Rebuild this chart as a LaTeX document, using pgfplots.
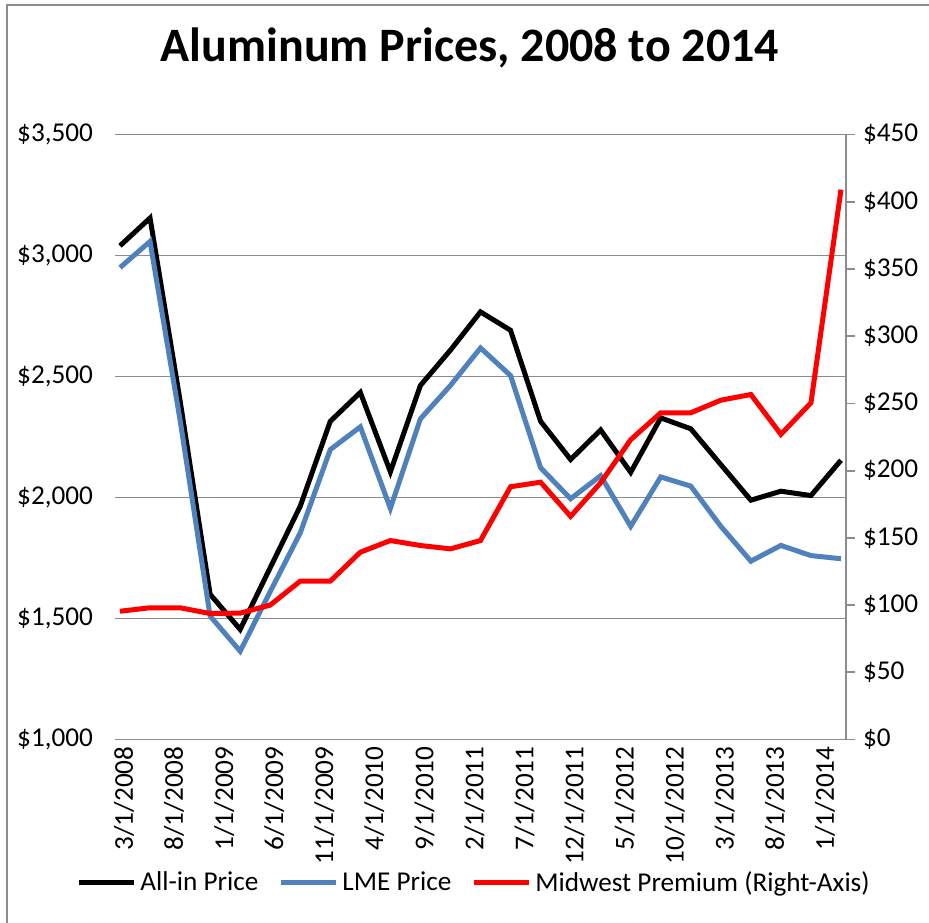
\documentclass[border=0pt]{standalone}
\usepackage{pgfplots}
\pgfplotsset{compat=1.18}
\usepackage{pgfplotstable}
\usepackage{fontspec}
\setmainfont{Carlito}

\definecolor{lmeblue}{HTML}{4F81BD}
\definecolor{gridgray}{HTML}{8C8C8C}

% months after 3/1/2008, quarterly
\pgfplotstableread{
m    allin  lme   premium
0    3040   2950  95.4
3    3155   3058  98
6    2400   2320  98
9    1600   1510  93.7
12   1455   1365  94
15   1710   1611  100
18   1964   1854  117.8
21   2315   2198  117.8
24   2434   2292  139.3
27   2106   1955  148
30   2463   2325  144.3
33   2609   2463  141.8
36   2767   2618  148
39   2691   2504  188
42   2315   2123  191.4
45   2157   1995  166
48   2279   2090  191
51   2104   1881  223
54   2329   2085  243
57   2284   2047  243
60   2136   1881  252.4
63   1989   1737  256.6
66   2026   1802  227
69   2008   1760  250.4
72   2154   1747  409
}\prices

\begin{document}
\begin{tikzpicture}
\pgfplotsset{
  every axis/.append style={
    scale only axis, width=365.5pt, height=302.5pt,
    xmin=-0.5, xmax=72.5,
    tick label style={font=\fontsize{13.6}{15}\selectfont},
  },
}
\useasboundingbox (-57.5pt,-91.25pt) rectangle (407pt,369.75pt);
\draw[gridgray, line width=0.9pt] (-54pt,-95pt) -- (-54pt,367.25pt) -- (410pt,367.25pt);

\begin{axis}[
  at={(0,0)}, anchor=south west,
  ymin=1000, ymax=3500,
  ytick={1000,1500,2000,2500,3000,3500},
  yticklabels={{\$1,000},{\$1,500},{\$2,000},{\$2,500},{\$3,000},{\$3,500}},
  xtick={0,5,...,70},
  xticklabels={3/1/2008,8/1/2008,1/1/2009,6/1/2009,11/1/2009,4/1/2010,9/1/2010,2/1/2011,7/1/2011,12/1/2011,5/1/2012,10/1/2012,3/1/2013,8/1/2013,1/1/2014},
  xticklabel style={rotate=90, anchor=east, yshift=-2pt},
  yticklabel style={xshift=-7.5pt},
  axis x line*=bottom, axis y line*=left,
  x axis line style={gridgray, line width=0.9pt, -},
  y axis line style={draw=none},
  major tick length=0pt,
  ymajorgrids, grid style={gridgray, line width=0.7pt},
  clip=false,
]
\addplot[black, line width=2.5pt] table[x=m, y=allin] {\prices};
\addplot[lmeblue, line width=2.5pt] table[x=m, y=lme] {\prices};
\end{axis}

\begin{axis}[
  at={(0,0)}, anchor=south west,
  ymin=0, ymax=450,
  ytick={0,50,...,450},
  yticklabels={\$0,\$50,\$100,\$150,\$200,\$250,\$300,\$350,\$400,\$450},
  axis x line=none, axis y line*=right,
  y axis line style={gridgray, line width=0.9pt, -},
  ytick style={gridgray, line width=0.9pt},
  tick align=outside, major tick length=4.5pt,
  yticklabel style={anchor=west, xshift=0.5pt},
  legend columns=3,
  legend style={at={(0.4925,-0.237)}, anchor=center, draw=none, fill=none,
    font=\fontsize{13.6}{15}\selectfont,
    /tikz/every even column/.append style={column sep=8pt}},
  legend image code/.code={\draw[#1] (0pt,0pt) -- (27.5pt,0pt);},
  clip=false,
]
\addlegendimage{black, line width=2.5pt}
\addlegendentry{All-in Price}
\addlegendimage{lmeblue, line width=2.5pt}
\addlegendentry{LME Price}
\addplot[red, line width=2.5pt] table[x=m, y=premium] {\prices};
\addlegendentry{Midwest Premium (Right-Axis)}
\end{axis}

\node[font=\fontsize{24}{28}\selectfont\bfseries] at (177.5pt,345.75pt) {Aluminum Prices, 2008 to 2014};
\end{tikzpicture}
\end{document}
